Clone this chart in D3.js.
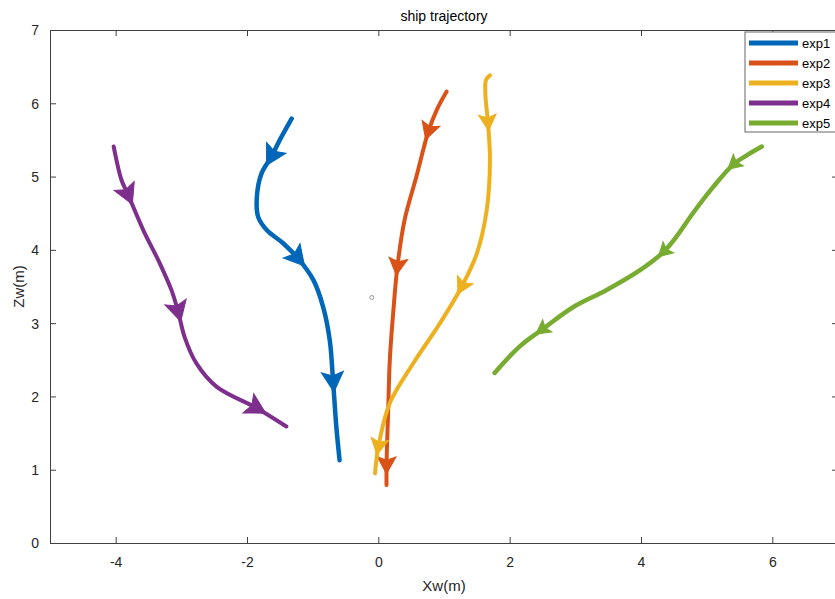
<!DOCTYPE html>
<html>
<head>
<meta charset="utf-8">
<script src="https://cdn.jsdelivr.net/npm/d3@7"></script>
<style>
  body { margin: 0; background: #fff; }
  svg { display: block; font-family: "Liberation Sans", Arial, Helvetica, sans-serif; }
</style>
</head>
<body>
<svg id="chart" width="835" height="599"></svg>
<script>
// ---------------- data ----------------
const seriesNames = ["exp1", "exp2", "exp3", "exp4", "exp5"];
const xTicks = [-4, -2, 0, 2, 4, 6];
const yTicks = [0, 1, 2, 3, 4, 5, 6, 7];

const exp1 = [[-1.32,5.79],[-1.50,5.50],[-1.63,5.27],[-1.78,5.04],[-1.85,4.72],[-1.83,4.45],[-1.70,4.27],
              [-1.45,4.09],[-1.22,3.88],[-0.99,3.59],[-0.84,3.22],[-0.74,2.77],[-0.69,2.22],[-0.64,1.59],[-0.59,1.13]];
const exp2 = [[1.04,6.16],[0.89,5.91],[0.76,5.61],[0.58,5.00],[0.40,4.41],[0.29,3.77],[0.23,3.18],
              [0.175,2.50],[0.15,1.81],[0.125,1.06],[0.125,0.79]];
const exp3 = [[1.70,6.38],[1.64,6.32],[1.63,6.13],[1.67,5.73],[1.70,5.23],[1.65,4.54],[1.50,3.95],
              [1.27,3.50],[0.94,3.00],[0.53,2.45],[0.175,1.91],[0.0,1.31],[-0.05,0.95]];
const exp4 = [[-4.03,5.41],[-3.91,4.95],[-3.81,4.75],[-3.58,4.27],[-3.33,3.82],[-3.15,3.45],[-3.05,3.16],
              [-2.95,2.81],[-2.77,2.45],[-2.46,2.13],[-1.85,1.84],[-1.40,1.59]];
const exp5 = [[5.84,5.41],[5.61,5.29],[5.40,5.16],[5.10,4.86],[4.79,4.50],[4.54,4.18],[4.34,3.97],
              [3.98,3.72],[3.47,3.45],[2.97,3.22],[2.49,2.91],[2.15,2.68],[1.77,2.32]];

// arrow marker positions along each path (data coords)
const arrows1 = [[-1.63,5.27],[-1.22,3.88],[-0.69,2.20]];
const arrows2 = [[0.76,5.61],[0.29,3.77],[0.125,1.06]];
const arrows3 = [[1.67,5.73],[1.27,3.50],[0.0,1.31]];
const arrows4 = [[-3.81,4.75],[-3.05,3.16],[-1.85,1.84]];
const arrows5 = [[5.40,5.16],[4.34,3.97],[2.49,2.91]];

const strayPoint = [[-0.1, 3.35]];

// ---------------- style ----------------
const colors = ["#0066B8", "#D95319", "#EDB120", "#7E2F8E", "#77AC30"];
const widths = [4.5, 4, 4, 4, 4.5];
const arrowSizes = [20, 17, 16, 20, 14];
const allData = [exp1, exp2, exp3, exp4, exp5];
const allArrows = [arrows1, arrows2, arrows3, arrows4, arrows5];

const svg = d3.select("#chart");
const margin = { left: 50, top: 30, right: 838, bottom: 543 };
const x = d3.scaleLinear().domain([-5, 7]).range([margin.left, margin.right]);
const y = d3.scaleLinear().domain([0, 7]).range([margin.bottom, margin.top]);

const axisColor = "#262626";
const tickColor = "#404040";
const fmt = d => String(d);

// title
svg.append("text").attr("x", (margin.left + margin.right) / 2).attr("y", 21)
  .attr("text-anchor", "middle").attr("font-size", 14).attr("fill", "#000")
  .text("ship trajectory");

// axes
const gx = svg.append("g").attr("transform", `translate(0,${margin.bottom})`)
  .call(d3.axisBottom(x).tickValues(xTicks).tickSize(-6).tickPadding(14).tickFormat(fmt));
const gy = svg.append("g").attr("transform", `translate(${margin.left},0)`)
  .call(d3.axisLeft(y).tickValues(yTicks).tickSize(-6).tickPadding(11).tickFormat(fmt));
const gxt = svg.append("g").attr("transform", `translate(0,${margin.top})`)
  .call(d3.axisTop(x).tickValues(xTicks).tickSize(-6).tickFormat(""));
const gyr = svg.append("g").attr("transform", `translate(${margin.right},0)`)
  .call(d3.axisRight(y).tickValues(yTicks).tickSize(-6).tickFormat(""));
[gx, gy, gxt, gyr].forEach(g => {
  g.select(".domain").attr("stroke", tickColor).attr("stroke-width", 1);
  g.selectAll(".tick line").attr("stroke", tickColor);
  g.selectAll(".tick text").attr("fill", axisColor).attr("font-size", 14)
    .attr("font-family", "Liberation Sans, Arial, sans-serif");
});
gy.selectAll(".tick text").attr("dy", "0.35em");

svg.append("text").attr("x", (margin.left + margin.right) / 2).attr("y", 591)
  .attr("text-anchor", "middle").attr("font-size", 15).attr("fill", axisColor).text("Xw(m)");
svg.append("text").attr("transform", `translate(24,${(margin.top + margin.bottom) / 2}) rotate(-90)`)
  .attr("text-anchor", "middle").attr("font-size", 15).attr("fill", axisColor).text("Zw(m)");

// trajectories
const line = d3.line().x(d => x(d[0])).y(d => y(d[1])).curve(d3.curveCatmullRom.alpha(0.5));
const plot = svg.append("g");

allData.forEach((data, i) => {
  const p = plot.append("path").datum(data).attr("d", line)
    .attr("fill", "none").attr("stroke", colors[i]).attr("stroke-width", widths[i])
    .attr("stroke-linecap", "round").attr("stroke-linejoin", "round");
  const node = p.node();
  const total = node.getTotalLength();
  allArrows[i].forEach(a => {
    const ax = x(a[0]), ay = y(a[1]);
    let best = 0, bestD = Infinity;
    for (let l = 0; l <= total; l += 1) {
      const pt = node.getPointAtLength(l);
      const dd = (pt.x - ax) ** 2 + (pt.y - ay) ** 2;
      if (dd < bestD) { bestD = dd; best = l; }
    }
    const p0 = node.getPointAtLength(Math.max(0, best - 4));
    const p1 = node.getPointAtLength(Math.min(total, best + 4));
    const c = node.getPointAtLength(best);
    const ang = Math.atan2(p1.y - p0.y, p1.x - p0.x) * 180 / Math.PI;
    const L = arrowSizes[i], W = arrowSizes[i] * 1.1;
    plot.append("path")
      .attr("d", `M${L * 0.5},0 L${-L * 0.5},${W / 2} L${-L * 0.3},0 L${-L * 0.5},${-W / 2} Z`)
      .attr("transform", `translate(${c.x},${c.y}) rotate(${ang})`)
      .attr("fill", colors[i]).attr("stroke", colors[i]).attr("stroke-width", 1)
      .attr("stroke-linejoin", "miter");
  });
});

plot.selectAll("circle.stray").data(strayPoint).join("circle").attr("class", "stray")
  .attr("cx", d => x(d[0])).attr("cy", d => y(d[1])).attr("r", 2)
  .attr("fill", "none").attr("stroke", "#999").attr("stroke-width", 1);

// legend
const lg = svg.append("g").attr("transform", "translate(745,32)");
lg.append("rect").attr("x", 0).attr("y", 0).attr("width", 120).attr("height", 100)
  .attr("fill", "#fff").attr("stroke", "#666").attr("stroke-width", 1);
seriesNames.forEach((name, i) => {
  const yy = 11 + i * 20;
  lg.append("line").attr("x1", 4).attr("x2", 53).attr("y1", yy).attr("y2", yy)
    .attr("stroke", colors[i]).attr("stroke-width", 5);
  lg.append("text").attr("x", 57).attr("y", yy).attr("dy", "0.35em")
    .attr("font-size", 13).attr("fill", "#000").text(name);
});
</script>
</body>
</html>
